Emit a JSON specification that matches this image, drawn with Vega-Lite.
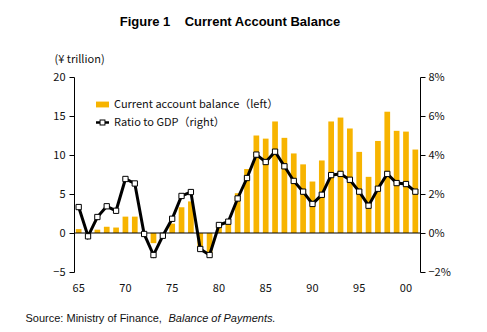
{
  "$schema": "https://vega.github.io/schema/vega-lite/v6.json",
  "autosize": "none",
  "width": 346,
  "height": 195,
  "padding": {"left": 74, "top": 77, "right": 67, "bottom": 60},
  "background": "white",
  "title": {
    "text": "Figure 1\u00a0\u00a0\u00a0\u00a0Current Account Balance",
    "font": "Liberation Sans",
    "fontSize": 13,
    "fontWeight": "bold",
    "color": "black",
    "frame": "group",
    "anchor": "middle",
    "dx": -17,
    "offset": 24
  },
  "data": {
    "values": [
      {"year": 1965, "ca": 0.5, "ratio": 1.33},
      {"year": 1966, "ca": 0.0, "ratio": -0.17},
      {"year": 1967, "ca": 0.43, "ratio": 0.82},
      {"year": 1968, "ca": 0.8, "ratio": 1.37},
      {"year": 1969, "ca": 0.7, "ratio": 1.14},
      {"year": 1970, "ca": 2.1, "ratio": 2.77},
      {"year": 1971, "ca": 2.1, "ratio": 2.54},
      {"year": 1972, "ca": 0.0, "ratio": -0.05},
      {"year": 1973, "ca": -1.3, "ratio": -1.13},
      {"year": 1974, "ca": -0.3, "ratio": -0.14},
      {"year": 1975, "ca": 1.2, "ratio": 0.73},
      {"year": 1976, "ca": 3.3, "ratio": 1.9},
      {"year": 1977, "ca": 4.05, "ratio": 2.1},
      {"year": 1978, "ca": -1.9, "ratio": -0.82},
      {"year": 1979, "ca": -2.6, "ratio": -1.13},
      {"year": 1980, "ca": 0.8, "ratio": 0.41},
      {"year": 1981, "ca": 1.2, "ratio": 0.58},
      {"year": 1982, "ca": 5.1, "ratio": 1.77},
      {"year": 1983, "ca": 8.2, "ratio": 2.82},
      {"year": 1984, "ca": 12.5, "ratio": 4.02},
      {"year": 1985, "ca": 12.1, "ratio": 3.64},
      {"year": 1986, "ca": 14.3, "ratio": 4.17},
      {"year": 1987, "ca": 12.2, "ratio": 3.42},
      {"year": 1988, "ca": 10.2, "ratio": 2.67},
      {"year": 1989, "ca": 8.8, "ratio": 2.12},
      {"year": 1990, "ca": 6.6, "ratio": 1.49},
      {"year": 1991, "ca": 9.3, "ratio": 1.96},
      {"year": 1992, "ca": 14.3, "ratio": 2.97},
      {"year": 1993, "ca": 14.8, "ratio": 3.03},
      {"year": 1994, "ca": 13.4, "ratio": 2.73},
      {"year": 1995, "ca": 10.4, "ratio": 2.12},
      {"year": 1996, "ca": 7.2, "ratio": 1.4},
      {"year": 1997, "ca": 11.8, "ratio": 2.27},
      {"year": 1998, "ca": 15.55, "ratio": 3.03},
      {"year": 1999, "ca": 13.1, "ratio": 2.56},
      {"year": 2000, "ca": 13.0, "ratio": 2.51},
      {"year": 2001, "ca": 10.7, "ratio": 2.12}
    ]
  },
  "layer": [
    {
      "layer": [
        {
          "mark": {"type": "bar"},
          "encoding": {
            "x": {
              "field": "year",
              "type": "ordinal",
              "scale": {"paddingInner": 0.39, "paddingOuter": 0.195},
              "axis": {
                "title": "Source: Ministry of Finance,",
                "titleFont": "Liberation Sans",
                "titleFontSize": 11,
                "titleFontWeight": "normal",
                "titleColor": "#111",
                "titleAngle": 0,
                "titleAlign": "left",
                "titleBaseline": "middle",
                "titleAnchor": null,
                "titleX": -49,
                "titleY": 46,
                "domain": false,
                "ticks": false,
                "labelAngle": 0,
                "labelPadding": 10,
                "labelOverlap": false,
                "labelFont": "Noto Sans CJK JP",
                "labelFontSize": 11,
                "labelColor": "#111",
                "labelExpr": "datum.value % 5 == 0 ? (datum.value % 100 < 10 ? '0' + (datum.value % 100) : '' + (datum.value % 100)) : ''"
              }
            },
            "y": {
              "field": "ca",
              "type": "quantitative",
              "scale": {"domain": [-5, 20], "nice": false},
              "axis": {
                "orient": "left",
                "values": [-5, 0, 5, 10, 15, 20],
                "tickCount": 6,
                "labelOverlap": false,
                "grid": false,
                "domainColor": "black",
                "domainWidth": 1,
                "tickColor": "black",
                "tickSize": 5,
                "labelPadding": 4,
                "labelFont": "Noto Sans CJK JP",
                "labelFontSize": 11,
                "labelColor": "#111",
                "title": "(¥ trillion)",
                "titleFont": "Noto Sans CJK JP",
                "titleFontSize": 11,
                "titleFontWeight": "normal",
                "titleColor": "#111",
                "titleAngle": 0,
                "titleAlign": "left",
                "titleBaseline": "middle",
                "titleAnchor": null,
                "titleX": -20,
                "titleY": -18
              }
            },
            "color": {
              "datum": "Current account balance（left）",
              "type": "nominal",
              "scale": {
                "domain": ["Current account balance（left）", "Ratio to GDP（right）"],
                "range": ["#F7B400", "black"]
              },
              "legend": {
                "title": null,
                "orient": "none",
                "legendX": 22,
                "legendY": 21,
                "labelFont": "Noto Sans CJK JP",
                "labelFontSize": 11,
                "labelColor": "#111",
                "labelLimit": 400,
                "labelOffset": 5,
                "symbolSize": 169,
                "rowPadding": 6,
                "padding": 0,
                "encode": {
                  "symbols": {
                    "update": {
                      "shape": {"signal": "datum.value == 'Ratio to GDP（right）' ? 'M-1,-0.2H-0.45V0.2H-1ZM0.45,-0.2H1V0.2H0.45ZM-0.45,-0.45H0.45V0.45H-0.45ZM-0.3,-0.3V0.3H0.3V-0.3Z' : 'M-1,-0.45H1V0.45H-1Z'"},
                      "fill": {"signal": "datum.value == 'Ratio to GDP（right）' ? 'black' : '#F7B400'"},
                      "stroke": {"value": "transparent"},
                      "strokeWidth": {"value": 0},
                      "opacity": {"value": 1},
                      "fillOpacity": {"value": 1}
                    }
                  }
                }
              }
            }
          }
        },
        {
          "data": {"values": [{"z": 0}]},
          "mark": {"type": "rule", "color": "black", "strokeWidth": 1},
          "encoding": {"y": {"field": "z", "type": "quantitative"}}
        }
      ]
    },
    {
      "layer": [
        {
          "mark": {"type": "line", "strokeWidth": 3, "color": "black"},
          "encoding": {
            "x": {"field": "year", "type": "ordinal"},
            "y": {
              "field": "ratio",
              "type": "quantitative",
              "scale": {"domain": [-2, 8], "nice": false},
              "axis": {
                "orient": "right",
                "values": [-2, 0, 2, 4, 6, 8],
                "tickCount": 6,
                "labelOverlap": false,
                "grid": false,
                "domainColor": "black",
                "domainWidth": 1,
                "tickColor": "black",
                "tickSize": 5,
                "labelPadding": 3,
                "labelFont": "Noto Sans CJK JP",
                "labelFontSize": 11,
                "labelColor": "#111",
                "labelExpr": "(datum.value < 0 ? '−' + abs(datum.value) : '' + datum.value) + '%'",
                "title": "Balance of Payments.",
                "titleFont": "Liberation Sans",
                "titleFontSize": 11,
                "titleFontWeight": "normal",
                "titleFontStyle": "italic",
                "titleColor": "#111",
                "titleAngle": 0,
                "titleAlign": "left",
                "titleBaseline": "middle",
                "titleAnchor": null,
                "titleX": -252,
                "titleY": 241
              }
            }
          }
        },
        {
          "mark": {"type": "point", "shape": "square", "filled": true, "fill": "white", "stroke": "black", "strokeWidth": 1, "size": 28, "opacity": 1},
          "encoding": {
            "x": {"field": "year", "type": "ordinal"},
            "y": {"field": "ratio", "type": "quantitative"}
          }
        }
      ]
    }
  ],
  "resolve": {"scale": {"y": "independent"}},
  "config": {
    "view": {"stroke": null}
  }
}
